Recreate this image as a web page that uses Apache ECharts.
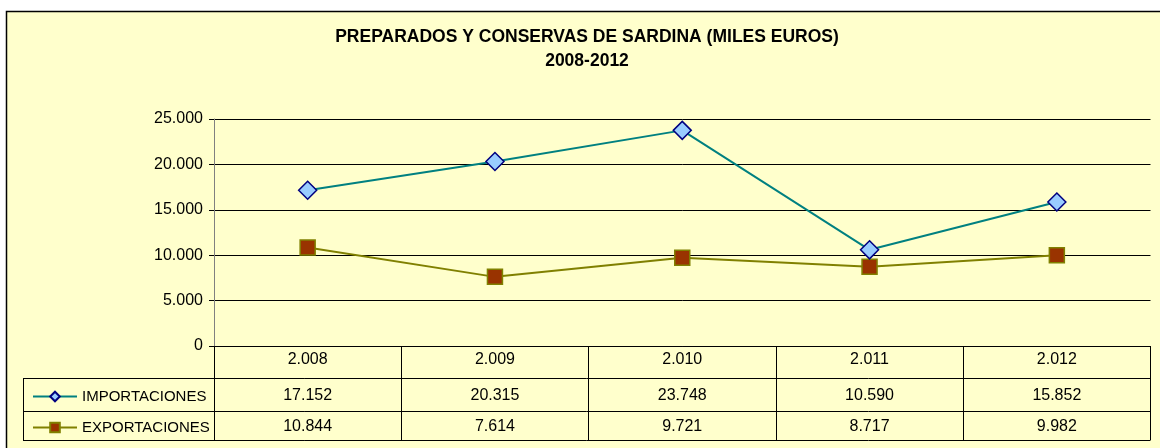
<!DOCTYPE html>
<html>
<head>
<meta charset="utf-8">
<script src="https://cdn.jsdelivr.net/npm/echarts@6/dist/echarts.min.js"></script>
<style>
  html, body { margin: 0; padding: 0; background: #ffffff; }
  #chart { width: 1160px; height: 448px; }
</style>
</head>
<body>
<div id="chart"></div>
<script>
// Sardine preparations and preserves, thousands of euros
const years = ['2.008', '2.009', '2.010', '2.011', '2.012'];
const importaciones = [17152, 20315, 23748, 10590, 15852];
const exportaciones = [10844, 7614, 9721, 8717, 9982];
const seriesNames = ['IMPORTACIONES', 'EXPORTACIONES'];
const titleLines = ['PREPARADOS Y CONSERVAS DE SARDINA (MILES EUROS)', '2008-2012'];

// Spanish thousands separator
function fmt(n) {
  return String(n).replace(/\B(?=(\d{3})+(?!\d))/g, '.');
}

const FONT = '"Liberation Sans", Arial, sans-serif';
const NUM_SIZE = 16;
const GRID = { left: 214, right: 9.5, top: 119, bottom: 102 };
const TABLE_LEFT = 23;
const ROW_LINES = [378, 411, 440];
const TABLE_RIGHT = 1160 - GRID.right;

const chart = echarts.init(document.getElementById('chart'), null, { renderer: 'canvas' });

const hiddenAxis = (labels, margin) => ({
  type: 'category',
  data: labels,
  position: 'bottom',
  boundaryGap: true,
  axisLine: { show: false },
  axisTick: { show: false },
  splitLine: { show: false },
  axisLabel: {
    margin: margin,
    verticalAlign: 'middle',
    color: '#000',
    fontFamily: FONT,
    fontSize: NUM_SIZE,
    interval: 0
  }
});

const graphics = [
  {
    type: 'rect', z: -10, silent: true,
    shape: { x: 6.5, y: 11.5, width: 1170, height: 450 },
    style: { fill: '#FFFFCC', stroke: '#000', lineWidth: 1.5 }
  },
  {
    type: 'text', silent: true, x: 587, y: 37,
    style: { text: titleLines[0], align: 'center', verticalAlign: 'middle',
             font: 'bold 17.5px ' + FONT, fill: '#000' }
  },
  {
    type: 'text', silent: true, x: 587, y: 61,
    style: { text: titleLines[1], align: 'center', verticalAlign: 'middle',
             font: 'bold 17.5px ' + FONT, fill: '#000' }
  },
  {
    type: 'line', silent: true,
    shape: { x1: TABLE_LEFT + 0.5, y1: ROW_LINES[0], x2: TABLE_LEFT + 0.5, y2: ROW_LINES[2] },
    style: { stroke: '#000', lineWidth: 1 }
  }
];
ROW_LINES.forEach(y => {
  graphics.push({
    type: 'line', silent: true,
    shape: { x1: TABLE_LEFT, y1: y + 0.5, x2: TABLE_RIGHT, y2: y + 0.5 },
    style: { stroke: '#000', lineWidth: 1 }
  });
});

chart.setOption({
  animation: false,
  backgroundColor: 'transparent',
  textStyle: { fontFamily: FONT },
  grid: GRID,
  legend: {
    orient: 'vertical',
    left: 27,
    top: 384,
    itemWidth: 44,
    itemHeight: 12,
    itemGap: 16,
    data: seriesNames,
    textStyle: { fontSize: 15, color: '#000', fontFamily: FONT, lineHeight: 14 }
  },
  xAxis: [
    {
      type: 'category',
      data: years,
      position: 'bottom',
      boundaryGap: true,
      axisLine: { show: true, lineStyle: { color: '#000', width: 1 } },
      axisTick: { show: true, length: 94, interval: 0, lineStyle: { color: '#000', width: 1 } },
      axisLabel: { margin: 14, verticalAlign: 'middle', color: '#000', fontSize: NUM_SIZE, fontFamily: FONT, interval: 0 },
      splitLine: { show: false }
    },
    hiddenAxis(importaciones.map(fmt), 50),
    hiddenAxis(exportaciones.map(fmt), 81)
  ],
  yAxis: {
    type: 'value',
    min: 0,
    max: 25000,
    interval: 5000,
    axisLine: { show: true, lineStyle: { color: '#808080', width: 1 } },
    axisTick: { show: true, length: 5, lineStyle: { color: '#000' } },
    axisLabel: { margin: 11, color: '#000', fontSize: NUM_SIZE, fontFamily: FONT, formatter: v => fmt(v) },
    splitLine: { show: true, lineStyle: { color: '#000', width: 1 } }
  },
  series: [
    {
      name: seriesNames[0],
      type: 'line',
      data: importaciones,
      symbol: 'diamond',
      symbolSize: 18,
      lineStyle: { color: '#008080', width: 2 },
      itemStyle: { color: '#99CCFF', borderColor: '#000080', borderWidth: 1.5 },
      z: 3
    },
    {
      name: seriesNames[1],
      type: 'line',
      data: exportaciones,
      symbol: 'rect',
      symbolSize: 15,
      lineStyle: { color: '#808000', width: 2 },
      itemStyle: { color: '#993300', borderColor: '#808000', borderWidth: 1.5 },
      z: 2
    }
  ],
  graphic: graphics
});
</script>
</body>
</html>
